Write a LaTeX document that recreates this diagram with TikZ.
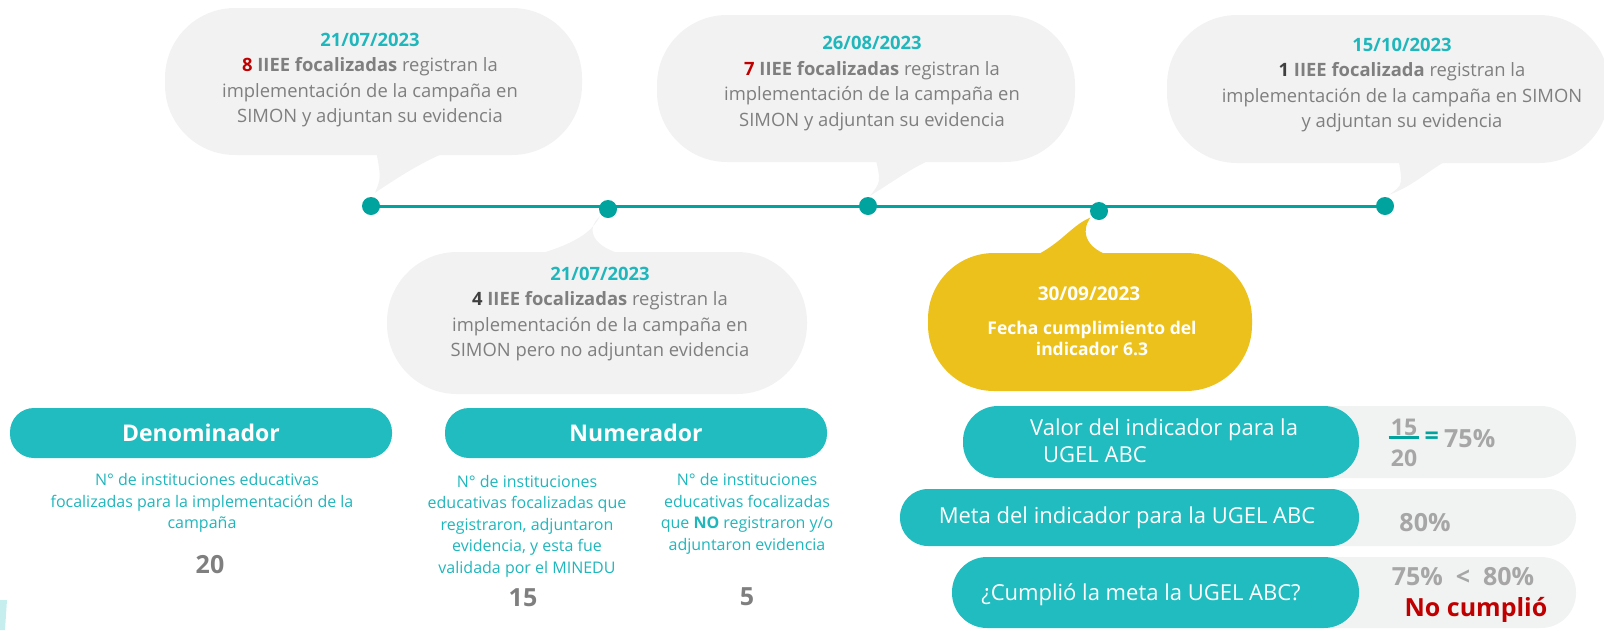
\documentclass[tikz,border=0pt]{standalone}
\usepackage{fontspec}
\setmainfont{Open Sans}
\usetikzlibrary{positioning,calc,backgrounds}

\definecolor{tealbox}{HTML}{20BCBF}
\definecolor{tealline}{HTML}{00A39E}
\definecolor{tealtext}{HTML}{1FB6BC}
\definecolor{bubblegray}{HTML}{F2F2F2}
\definecolor{rowgray}{HTML}{F1F2F2}
\definecolor{graytext}{HTML}{7F7F7F}
\definecolor{darktext}{HTML}{404040}
\definecolor{redtext}{HTML}{C00000}
\definecolor{numgray}{HTML}{A6A6A6}
\definecolor{goldfill}{HTML}{EDC11B}

\newcommand{\fsz}[2]{\fontsize{#1}{#2}\selectfont}

\begin{document}
\begin{tikzpicture}[x=1pt,y=-1pt,
    bubble/.style={fill=bubblegray, rounded corners=70pt, inner sep=0pt},
    bubble text/.style={text=graytext, align=center, font=\fsz{18.4}{25.5}},
    dot node/.style={circle, fill=tealline, minimum size=18pt, inner sep=0pt},
    head node/.style={fill=tealbox, rounded corners=24pt, minimum width=382pt, minimum height=50pt, text=white, font=\bfseries\fsz{23}{28}},
    sub text/.style={text=tealtext, align=center, font=\fsz{16}{21.5}},
    count/.style={text=graytext, font=\bfseries\fsz{25}{30}},
    row back/.style={fill=rowgray, minimum width=276pt, inner sep=0pt},
    row node/.style={fill=tealbox, inner sep=0pt},
    row text/.style={text=white, font=\fsz{22}{27}, inner sep=0pt},
    score/.style={text=numgray, font=\bfseries\fsz{25}{30}, inner sep=2pt}]

    \useasboundingbox (0,0) rectangle (1604,630);

    % timeline dots
    \node[dot node] (d1) at (371,206) {};
    \node[dot node] (d2) at (608,209) {};
    \node[dot node] (d3) at (868,206) {};
    \node[dot node] (d4) at (1099,211) {};
    \node[dot node] (d5) at (1385,206) {};
    \begin{scope}[on background layer]
        \draw[tealline, line width=3pt] (d1.center) -- (d5.center);
    \end{scope}

    % speech bubbles
    \node[bubble, minimum width=417pt, minimum height=147pt] (b1) at (373.5,81.5) {};
    \node[bubble, minimum width=420pt, minimum height=142pt] (b2) at (597,323) {};
    \node[bubble, minimum width=418pt, minimum height=147pt] (b3) at (866,88.5) {};
    \node[bubble, minimum width=442pt, minimum height=148pt] (b4) at (1388,89) {};
    \node[bubble, fill=goldfill, rounded corners=66pt, minimum width=324pt, minimum height=138pt] (by) at (1090,322) {};

    \fill[bubblegray] (376,150) .. controls (381,178) .. ($(d1.north)+(4,-4)$) .. controls (400,176) and (425,160) .. (452,150) -- cycle;
    \fill[bubblegray] (526,258) .. controls (568,246) and (590,236) .. ($(d2.south)+(-8,-2)$) .. controls (584,230) and (592,252) .. (642,258) -- cycle;
    \fill[bubblegray] (875,156) .. controls (881,182) .. ($(d3.north)+(2,-1)$) .. controls (896,180) and (915,165) .. (940,156) -- cycle;
    \fill[bubblegray] (1398,157) .. controls (1403,185) .. ($(d5.north)+(4,-2)$) .. controls (1416,185) and (1430,168) .. (1454,157) -- cycle;
    \fill[goldfill] (1028,259) .. controls (1060,246) and (1070,226) .. ($(d4.south west)+(-2,0)$) .. controls (1080,232) and (1085,252) .. (1122,259) -- cycle;

    \node[bubble text] (t1) at (370,80) {{\color{tealtext}\bfseries 21/07/2023}\\{\color{redtext}\bfseries 8} \textbf{IIEE focalizadas} registran la\\implementación de la campaña en\\SIMON y adjuntan su evidencia};
    \node[bubble text] (t2) at (600,314) {{\color{tealtext}\bfseries 21/07/2023}\\{\color{darktext}\bfseries 4} \textbf{IIEE focalizadas} registran la\\implementación de la campaña en\\SIMON pero no adjuntan evidencia};
    \node[bubble text] (t3) at (872,83.5) {{\color{tealtext}\bfseries 26/08/2023}\\{\color{redtext}\bfseries 7} \textbf{IIEE focalizadas} registran la\\implementación de la campaña en\\SIMON y adjuntan su evidencia};
    \node[bubble text] (t4) at (1402,85) {{\color{tealtext}\bfseries 15/10/2023}\\{\color{darktext}\bfseries 1} \textbf{IIEE focalizada} registran la\\implementación de la campaña en SIMON\\y adjuntan su evidencia};

    \node[text=white, font=\bfseries\fsz{19}{23}] (ydate) at (1089,294) {30/09/2023};
    \node[text=white, align=center, font=\bfseries\fsz{17.5}{21}] (ytxt) at (1092,338) {Fecha cumplimiento del\\indicador 6.3};

    % denominador / numerador
    \node[head node] (den) at (201,433) {Denominador};
    \node[head node] (num) at (636,433) {Numerador};

    \node[sub text] (dentxt) at (202,503) {\hspace*{10pt}N° de instituciones educativas\\focalizadas para la implementación de la\\campaña};
    \node[count] (den20) at (210,565) {20};

    \node[sub text] (numok) at (527,526) {N° de instituciones\\educativas focalizadas que\\registraron, adjuntaron\\evidencia, y esta fue\\validada por el MINEDU};
    \node[count] (num15) at (523,598) {15};
    \node[sub text] (numno) at (747,514) {N° de instituciones\\educativas focalizadas\\que \textbf{NO} registraron y/o\\adjuntaron evidencia};
    \node[count] (num5) at (747,597) {5};

    % indicator rows
    \node[row back, minimum height=72pt, rounded corners=35pt] (r1b) at (1438,442) {};
    \node[row back, minimum height=57pt, rounded corners=28pt] (r2b) at (1438,517.5) {};
    \node[row back, minimum height=71pt, rounded corners=35pt] (r3b) at (1438,592.5) {};
    \node[row node, minimum width=396pt, minimum height=72pt, rounded corners=35pt] (r1) at (1161,442) {};
    \node[row node, minimum width=459pt, minimum height=57pt, rounded corners=28pt] (r2) at (1129.5,517.5) {};
    \node[row node, minimum width=407pt, minimum height=71pt, rounded corners=35pt] (r3) at (1155.5,592.5) {};

    \node[row text, anchor=west, align=left] (r1txt) at (1030,441) {Valor del indicador para la\\\hspace*{13pt}UGEL ABC};
    \node[row text] (r2txt) at (1127,518) {Meta del indicador para la UGEL ABC};
    \node[row text] (r3txt) at (1141,595) {¿Cumplió la meta la UGEL ABC?};

    \node[score, font=\bfseries\fsz{23}{28}] (f15) at (1404,427) {15};
    \node[score, font=\bfseries\fsz{23}{28}] (f20) at (1404,458) {20};
    \draw[tealline, line width=3pt] (f15.south west) -- (f15.south east);
    \node[score, text=tealline, right=3pt of f15.south east, yshift=-1pt] (eq) {=};
    \node[score, right=1pt of eq] (pct) {75\%};
    \node[score] (goal) at (1425,523) {80\%};
    \node[score] (cmp) at (1463,577) {75\%\ \ <\ \ 80\%};
    \node[score, text=redtext] (verdict) at (1476,610) {No cumplió};

    % corner decoration
    \fill[tealbox!25] (0,600) -- (7,600) -- (5,630) -- (0,630) -- cycle;
\end{tikzpicture}
\end{document}
